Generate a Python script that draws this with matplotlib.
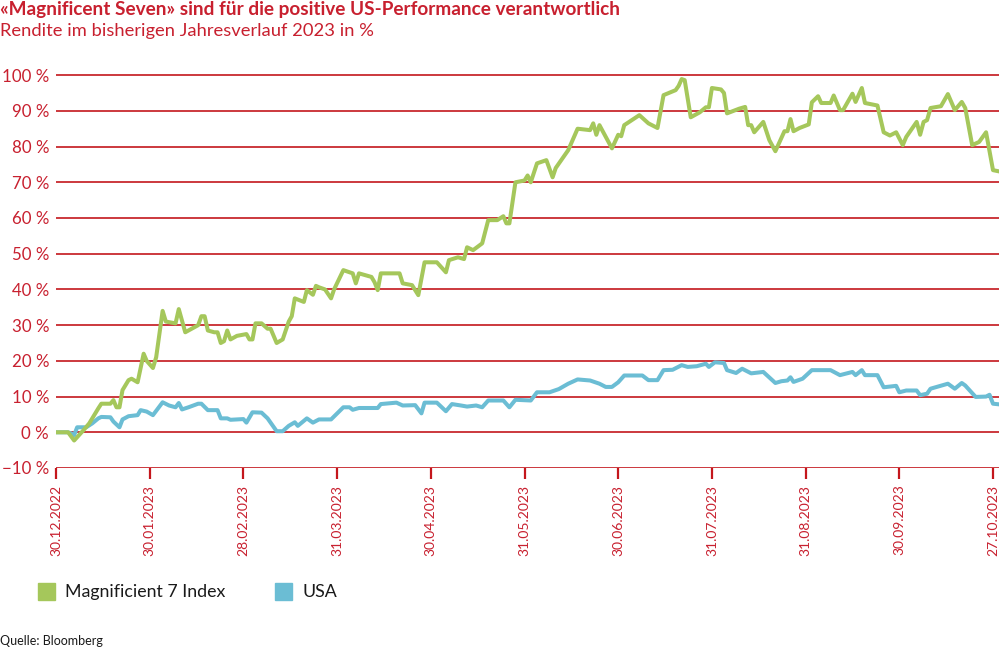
import numpy as np
import matplotlib
matplotlib.use("Agg")
import matplotlib.pyplot as plt
from matplotlib.patches import Rectangle

# ---- data ----
tick_labels = ["30.12.2022", "30.01.2023", "28.02.2023", "31.03.2023", "30.04.2023",
               "31.05.2023", "30.06.2023", "31.07.2023", "31.08.2023", "30.09.2023", "27.10.2023"]
# day offsets of tick dates from 30.12.2022
tick_days = [0, 31, 60, 91, 121, 152, 182, 213, 244, 274, 301]

mag7_days = [0, 4, 6, 9, 11, 14, 15, 18, 19, 20, 21, 22, 24, 25, 27, 29, 30, 32, 33, 35,
             36, 39, 40, 42, 44, 46, 47, 48, 49, 51, 52, 53, 54, 55, 56, 58, 61, 62, 63, 64,
             66, 68, 69, 71, 73, 75, 76, 77, 80, 81, 83, 84, 85, 87, 89, 90, 93, 96, 97, 98,
             102, 103, 104, 105, 111, 112, 115, 116, 117, 119, 123, 126, 127, 130, 132, 133, 135, 138, 140, 143,
             145, 146, 147, 149, 152, 153, 154, 156, 159, 161, 162, 166, 169, 173, 174, 175, 176, 180, 182, 183,
             184, 189, 192, 195, 197, 201, 202, 203, 204, 206, 209, 211, 212, 213, 216, 217, 218, 222, 224, 225,
             226, 227, 230, 232, 234, 237, 238, 239, 240, 242, 245, 246, 248, 249, 252, 253, 255, 256, 259, 260,
             262, 263, 267, 269, 271, 273, 275, 276, 279, 280, 281, 282, 283, 286, 288, 290, 292, 293, 295, 297,
             299, 301, 303]
mag7_vals = [0, 0, -2.3, 0.5, 2.5, 6.7, 8, 8, 9, 7, 7, 11.8, 14.6, 15, 14, 22, 20, 18, 21, 34,
             31, 30.5, 34.5, 28, 29, 30, 32.5, 32.5, 28.5, 28, 28, 25, 25.5, 28.5, 26, 27, 27.5, 26, 26, 30.5,
             30.5, 29, 29, 25, 26, 31, 32.5, 37.5, 36.5, 39.8, 38.5, 41, 40.6, 40, 37.5, 40, 45.4, 44.5, 41.7, 44.5,
             43.5, 42, 39.8, 44.5, 44.5, 41.7, 41.2, 39.8, 38.4, 47.6, 47.6, 44.8, 48.2, 49, 48.5, 51.8, 51, 52.9, 59.4, 59.4,
             60.5, 58.5, 58.5, 70, 70.5, 71.9, 70, 75.3, 76.2, 71.4, 74, 79, 85, 84.6, 86.5, 83.3, 86, 79.5, 83.3, 82.9,
             86, 88.8, 86.5, 85.2, 94.4, 95.8, 97, 98.9, 98.6, 88.2, 89.6, 91, 91, 96.4, 96, 95, 89.3, 90.6, 91.1, 86,
             86, 84, 86.9, 81.8, 78.7, 84.3, 84.3, 87.7, 84.3, 85.2, 86.2, 92.4, 94.1, 92.2, 92.2, 94.3, 90.2, 90.2, 94.8, 92.5,
             96.4, 92.2, 91.5, 84, 83.1, 84, 80.4, 82.7, 86.9, 83.3, 86.9, 87.4, 90.8, 91.3, 94.7, 90.2, 92.5, 90.8, 80.4, 81.3,
             84, 73.4, 73]

usa_days = [0, 4, 5, 6, 7, 10, 12, 14, 15, 18, 19, 21, 22, 24, 27, 28, 30, 32, 35, 37,
            39, 40, 41, 43, 46, 47, 49, 52, 53, 55, 56, 60, 61, 63, 66, 68, 71, 73, 75, 77,
            78, 81, 83, 85, 89, 93, 95, 96, 98, 104, 105, 110, 112, 116, 118, 119, 123, 126, 128, 131,
            133, 136, 138, 140, 145, 147, 149, 154, 156, 160, 163, 166, 169, 173, 176, 178, 180, 182, 184, 190,
            192, 195, 197, 200, 203, 205, 208, 211, 212, 214, 217, 218, 221, 223, 226, 230, 234, 236, 238, 239,
            240, 243, 246, 252, 255, 259, 260, 262, 263, 267, 269, 273, 274, 276, 279, 280, 282, 283, 288, 290,
            292, 293, 296, 299, 300, 301, 303]
usa_vals = [0, 0, -0.3, -0.8, 1.4, 1.4, 2.5, 3.9, 4.3, 4.2, 3, 1.4, 3.6, 4.5, 4.8, 6.2, 5.8, 4.8, 8.4, 7.5,
            7, 8.2, 6.4, 7, 8, 8, 6.2, 6.2, 3.9, 3.9, 3.5, 3.7, 2.7, 5.6, 5.5, 3.9, 0.3, 0.3, 1.8, 2.8,
            1.8, 3.9, 2.7, 3.6, 3.6, 7, 7, 6.3, 6.8, 6.8, 7.9, 8.3, 7.5, 7.6, 5.3, 8.3, 8.3, 5.9, 7.9, 7.5,
            7.2, 7.5, 7, 8.9, 8.9, 7, 9.1, 8.9, 11.2, 11.2, 12.1, 13.6, 14.8, 14.5, 13.6, 12.7, 12.7, 14, 15.9, 15.9,
            14.6, 14.6, 17.4, 17.5, 18.8, 18.3, 18.5, 19.2, 18.3, 19.6, 19.4, 17.4, 16.6, 17.8, 16.5, 16.9, 13.8, 14.3, 14.5, 15.4,
            14.1, 15, 17.4, 17.4, 16, 16.9, 16, 17.4, 16, 16, 12.6, 13, 11.2, 11.7, 11.7, 10.4, 10.8, 12.2, 13.6, 12.2,
            13.8, 13.1, 9.9, 10, 10.5, 8, 7.8]

series_names = ["Magnificient 7 Index", "USA"]
y_ticks = list(range(-10, 101, 10))

# ---- style ----
RED = "#c8202f"
GRID_RED = "#c4161c"
GREEN = "#a5c75b"
BLUE = "#6bbdd4"
FONT = ["Lato", "DejaVu Sans"]
plt.rcParams["font.family"] = FONT


def to_pos(days):
    days = np.asarray(days, dtype=float)
    pos = np.interp(days, tick_days, np.arange(len(tick_days)))
    last_span = tick_days[-1] - tick_days[-2]
    over = days > tick_days[-1]
    pos[over] = len(tick_days) - 1 + (days[over] - tick_days[-1]) / last_span
    return pos


fig = plt.figure(figsize=(9.99, 6.5), dpi=100)
ax = fig.add_axes([56 / 999, 1 - 468 / 650, 1 - 56 / 999, (468 - 68) / 650])

for yv in y_ticks:
    ax.axhline(yv, color=GRID_RED, lw=1.2, zorder=1)

ax.plot(to_pos(usa_days), usa_vals, color=BLUE, lw=2.9, solid_joinstyle="round", zorder=3)
ax.plot(to_pos(mag7_days), mag7_vals, color=GREEN, lw=2.9, solid_joinstyle="round", zorder=4)

ax.set_xlim(0, 10 + 6 / 93.7)
ax.set_ylim(-10, 102)
for s in ax.spines.values():
    s.set_visible(False)

ax.set_yticks(y_ticks)
ax.set_yticklabels([f"{v} %".replace("-", "\u2212") for v in y_ticks], color=RED, fontsize=12.2)
ax.tick_params(axis="y", length=0, pad=5)

ax.set_xticks(np.arange(len(tick_labels)))
ax.set_xticklabels(tick_labels, rotation=90, color=RED, fontsize=10)
ax.tick_params(axis="x", length=8, width=1.6, color=GRID_RED, pad=4)

# titles
fig.text(0.0, 1 - 10 / 650, "«Magnificent Seven» sind für die positive US-Performance verantwortlich",
         color=RED, fontsize=13.65, fontweight="bold", va="center", ha="left")
fig.text(0.0, 1 - 31 / 650, "Rendite im bisherigen Jahresverlauf 2023 in %",
         color=RED, fontsize=13.2, va="center", ha="left")

# legend
fig.patches.append(Rectangle((38 / 999, 1 - 600 / 650), 17 / 999, 17 / 650,
                             transform=fig.transFigure, color=GREEN))
fig.text(65 / 999, 1 - 592 / 650, series_names[0], fontsize=12.8, va="center", ha="left", color="#1a1a1a")
fig.patches.append(Rectangle((275 / 999, 1 - 600 / 650), 17 / 999, 17 / 650,
                             transform=fig.transFigure, color=BLUE))
fig.text(302 / 999, 1 - 592 / 650, series_names[1], fontsize=12.8, va="center", ha="left", color="#1a1a1a")

fig.text(0.0, 1 - 641 / 650, "Quelle: Bloomberg", fontsize=9, va="center", ha="left", color="#1a1a1a")

fig.savefig("out.png", dpi=100)
